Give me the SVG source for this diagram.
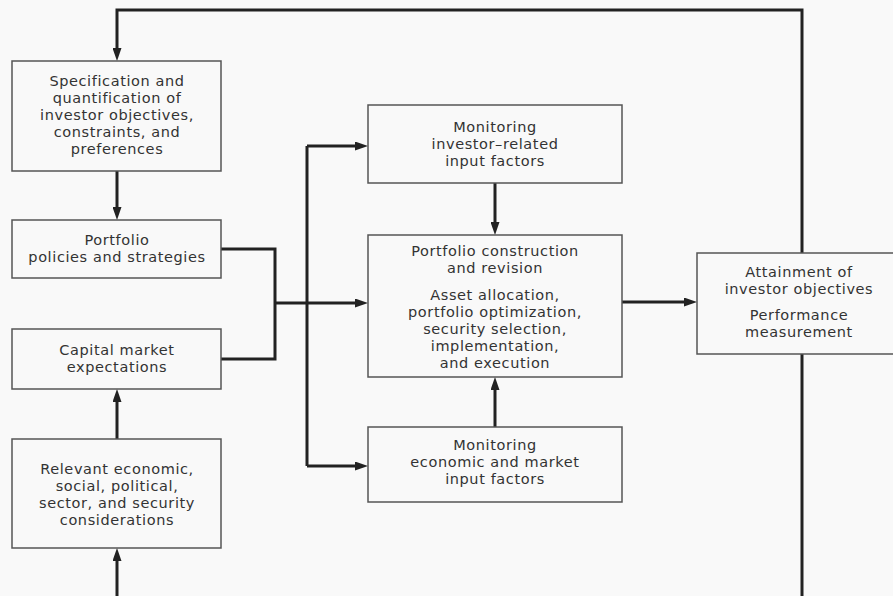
<svg xmlns="http://www.w3.org/2000/svg" width="893" height="596" viewBox="0 0 893 596">
  <defs>
    <marker id="arrow" markerUnits="userSpaceOnUse" markerWidth="14" markerHeight="9" refX="0" refY="4.5" orient="auto">
      <path d="M0,0 L13,4.5 L0,9 z" fill="#222"/>
    </marker>
    <style>
      .box { fill: none; stroke: #555; stroke-width: 1.5; }
      .lbl { font-family: "DejaVu Sans", "Liberation Sans", sans-serif; font-size: 14.5px; fill: #333; text-anchor: middle; letter-spacing: 0.6px; }
      .conn { fill: none; stroke: #222; stroke-width: 3; }
      .arr { fill: none; stroke: #222; stroke-width: 3; marker-end: url(#arrow); }
    </style>
  </defs>
  <rect x="0" y="0" width="893" height="596" fill="#f9f9f9"/>

  <g id="connectors">
    <path class="arr" d="M802,253 V10 H117 V48"/>
    <path class="conn" d="M802,354 V596"/>
    <path class="arr" d="M117,596 V561"/>
    <path class="arr" d="M117,171 V207"/>
    <path class="arr" d="M117,439 V402"/>
    <path class="conn" d="M221,249 H275 V359 H221"/>
    <path class="arr" d="M275,303 H355"/>
    <path class="conn" d="M307,146 V466"/>
    <path class="arr" d="M307,146 H355"/>
    <path class="arr" d="M307,466 H355"/>
    <path class="arr" d="M495,183 V222"/>
    <path class="arr" d="M495,427 V390"/>
    <path class="arr" d="M622,302 H684"/>
  </g>

  <g id="spec">
    <rect class="box" x="12" y="61" width="209" height="110"/>
    <text class="lbl" x="117" y="86">Specification and</text>
    <text class="lbl" x="117" y="103">quantification of</text>
    <text class="lbl" x="117" y="120">investor objectives,</text>
    <text class="lbl" x="117" y="137">constraints, and</text>
    <text class="lbl" x="117" y="154">preferences</text>
  </g>

  <g id="policies">
    <rect class="box" x="12" y="220" width="209" height="58"/>
    <text class="lbl" x="117" y="245">Portfolio</text>
    <text class="lbl" x="117" y="262">policies and strategies</text>
  </g>

  <g id="capital">
    <rect class="box" x="12" y="329" width="209" height="60"/>
    <text class="lbl" x="117" y="355">Capital market</text>
    <text class="lbl" x="117" y="372">expectations</text>
  </g>

  <g id="relevant">
    <rect class="box" x="12" y="439" width="209" height="109"/>
    <text class="lbl" x="117" y="474">Relevant economic,</text>
    <text class="lbl" x="117" y="491">social, political,</text>
    <text class="lbl" x="117" y="508">sector, and security</text>
    <text class="lbl" x="117" y="525">considerations</text>
  </g>

  <g id="monitor-investor">
    <rect class="box" x="368" y="105" width="254" height="78"/>
    <text class="lbl" x="495" y="132">Monitoring</text>
    <text class="lbl" x="495" y="149">investor–related</text>
    <text class="lbl" x="495" y="166">input factors</text>
  </g>

  <g id="construction">
    <rect class="box" x="368" y="235" width="254" height="142"/>
    <text class="lbl" x="495" y="256">Portfolio construction</text>
    <text class="lbl" x="495" y="273">and revision</text>
    <text class="lbl" x="495" y="300">Asset allocation,</text>
    <text class="lbl" x="495" y="317">portfolio optimization,</text>
    <text class="lbl" x="495" y="334">security selection,</text>
    <text class="lbl" x="495" y="351">implementation,</text>
    <text class="lbl" x="495" y="368">and execution</text>
  </g>

  <g id="monitor-economic">
    <rect class="box" x="368" y="427" width="254" height="75"/>
    <text class="lbl" x="495" y="450">Monitoring</text>
    <text class="lbl" x="495" y="467">economic and market</text>
    <text class="lbl" x="495" y="484">input factors</text>
  </g>

  <g id="attainment">
    <rect class="box" x="697" y="253" width="210" height="101"/>
    <text class="lbl" x="799" y="277">Attainment of</text>
    <text class="lbl" x="799" y="294">investor objectives</text>
    <text class="lbl" x="799" y="320">Performance</text>
    <text class="lbl" x="799" y="337">measurement</text>
  </g>
</svg>
